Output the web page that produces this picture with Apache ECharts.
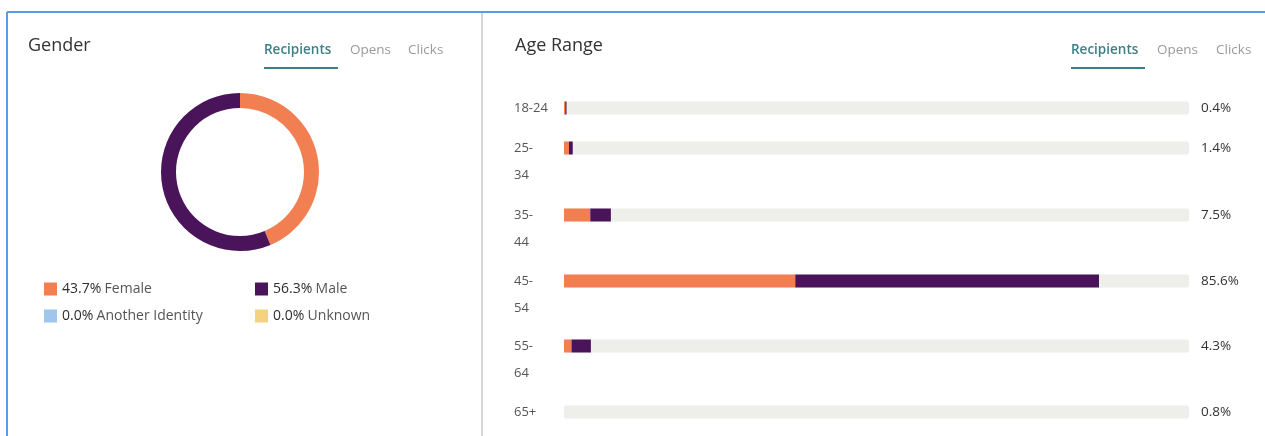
<!DOCTYPE html>
<html>
<head>
<meta charset="utf-8">
<title>Gender and Age Range</title>
<script src="https://cdn.jsdelivr.net/npm/echarts@6/dist/echarts.min.js"></script>
<style>
  html, body { margin: 0; padding: 0; background: #ffffff; }
  #chart { width: 1265px; height: 436px; }
</style>
</head>
<body>
<div id="chart"></div>
<script>
// Gender split of recipients (percent)
const genderNames = ['Female', 'Male', 'Another Identity', 'Unknown'];
const genderValues = [43.7, 56.3, 0.0, 0.0];

// Age ranges with the female / male share of each bar and the stated total
const ageCategories = ['18-24', '25-34', '35-44', '45-54', '55-64', '65+'];
const ageFemale = [0.2, 0.8, 4.2, 37.0, 1.2, 0.0];
const ageMale = [0.2, 0.6, 3.3, 48.6, 3.1, 0.0];
const ageTotals = [0.4, 1.4, 7.5, 85.6, 4.3, 0.8];

const tabs = ['Recipients', 'Opens', 'Clicks'];

const COLORS = {
  Female: '#f27f52',
  Male: '#4a145a',
  'Another Identity': '#9fc6ec',
  Unknown: '#f4d27e'
};
const TEAL = '#3d7f86';
const FONT = '"Open Sans", "Noto Sans", sans-serif';

// vertical centre of each age row (rows with wrapped labels are taller)
const rowCenters = [108, 148, 215, 281, 346, 412];
const barLeft = 564, barRight = 76;

const chart = echarts.init(document.getElementById('chart'), null, { renderer: 'canvas' });

const grids = [], xAxes = [], yAxes = [], series = [];

ageCategories.forEach(function (cat, i) {
  grids.push({ left: barLeft, right: barRight, top: rowCenters[i] - 10, height: 20 });
  xAxes.push({ gridIndex: i, type: 'value', min: 0, max: 100, show: false });
  yAxes.push({
    gridIndex: i, type: 'category', data: [cat], position: 'left',
    axisLine: { show: false }, axisTick: { show: false },
    axisLabel: {
      align: 'left', margin: barLeft - 514, color: '#555', fontSize: 13,
      fontFamily: FONT, lineHeight: 27, padding: [3, 0, 0, 0],
      // narrow column: the later ranges wrap after the dash
      formatter: function (v) { return i === 0 || v.indexOf('-') < 0 ? v : '\n' + v.replace('-', '-\n'); }
    }
  });
  yAxes.push({
    gridIndex: i, type: 'category', data: [ageTotals[i].toFixed(1) + '%'], position: 'right',
    axisLine: { show: false }, axisTick: { show: false },
    axisLabel: { align: 'left', margin: 12, color: '#333', fontSize: 13.5, fontFamily: FONT, padding: [5, 0, 0, 0] }
  });
  series.push({
    name: 'Female', type: 'bar', xAxisIndex: i, yAxisIndex: 2 * i, stack: 'age' + i,
    barWidth: 13, data: [ageFemale[i]],
    showBackground: true,
    backgroundStyle: { color: '#eeeeeb', borderRadius: 2 },
    itemStyle: { color: COLORS.Female },
    silent: true
  });
  series.push({
    name: 'Male', type: 'bar', xAxisIndex: i, yAxisIndex: 2 * i, stack: 'age' + i,
    barWidth: 13, data: [ageMale[i]],
    itemStyle: { color: COLORS.Male },
    silent: true
  });
});

// donut of the gender split
series.push({
  name: 'Gender', type: 'pie', radius: [64, 79], center: [240, 172],
  startAngle: 90, clockwise: true, label: { show: false }, labelLine: { show: false },
  silent: true, avoidLabelOverlap: false,
  data: genderNames.map(function (n, k) {
    return { name: n, value: genderValues[k], itemStyle: { color: COLORS[n] } };
  })
});

function legendText(name) {
  const v = genderValues[genderNames.indexOf(name)];
  return '{p|' + v.toFixed(1) + '%} {n|' + name + '}';
}
const legendStyle = {
  orient: 'vertical', icon: 'rect', itemWidth: 13, itemHeight: 13, itemGap: 13,
  padding: 0, selectedMode: false, formatter: legendText,
  textStyle: {
    rich: {
      p: { fontSize: 14, color: '#2e2e2e', fontFamily: FONT },
      n: { fontSize: 14, color: '#555', fontFamily: FONT }
    }
  }
};

// header texts and tab strip of a panel
function header(title, titleX, tabXs) {
  const els = [{
    type: 'text', left: titleX, top: 37,
    style: { text: title, fontSize: 18, fill: '#333', fontFamily: FONT }
  }];
  tabs.forEach(function (t, k) {
    els.push({
      type: 'text', left: tabXs[k], top: 43,
      style: { text: t, fontSize: 13.5, fill: k === 0 ? TEAL : '#9a9a9a', fontFamily: FONT, fontWeight: k === 0 ? 600 : 400 }
    });
  });
  els.push({
    type: 'rect', shape: { x: tabXs[0], y: 67, width: tabXs[1] - tabXs[0] - 12, height: 2 },
    style: { fill: TEAL }
  });
  return els;
}

const graphics = []
  .concat(header('Gender', 28, [264, 350, 408]))
  .concat(header('Age Range', 515, [1071, 1157, 1216]))
  .concat([
    { type: 'line', shape: { x1: 7, y1: 12, x2: 1265, y2: 12 }, style: { stroke: '#5b9be0', lineWidth: 2 } },
    { type: 'line', shape: { x1: 7, y1: 12, x2: 7, y2: 436 }, style: { stroke: '#5b9be0', lineWidth: 2 } },
    { type: 'line', shape: { x1: 482, y1: 13, x2: 482, y2: 436 }, style: { stroke: '#c9c9c9', lineWidth: 1.5 } }
  ]);

chart.setOption({
  backgroundColor: '#ffffff',
  animation: false,
  grid: grids,
  xAxis: xAxes,
  yAxis: yAxes,
  legend: [
    Object.assign({ left: 44, top: 282, data: ['Female', 'Another Identity'] }, legendStyle),
    Object.assign({ left: 255, top: 282, data: ['Male', 'Unknown'] }, legendStyle)
  ],
  graphic: graphics,
  series: series
});
</script>
</body>
</html>
